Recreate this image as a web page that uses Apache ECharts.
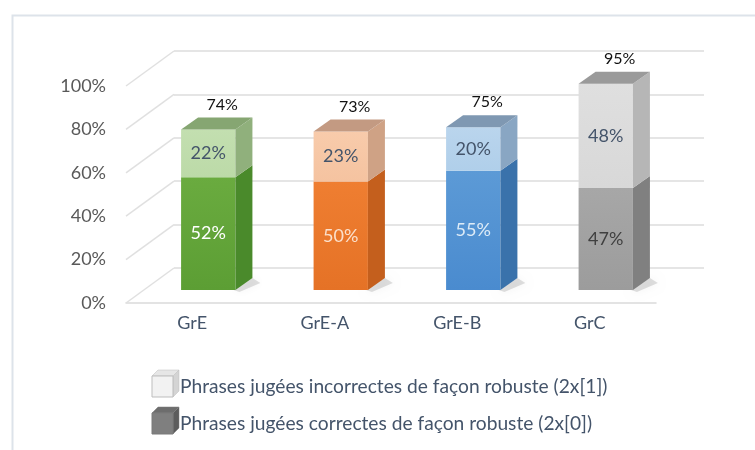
<!DOCTYPE html>
<html>
<head>
<meta charset="utf-8">
<script src="https://cdn.jsdelivr.net/npm/echarts@6/dist/echarts.min.js"></script>
<style>
  html, body { margin: 0; padding: 0; background: #fff; }
  #chart { width: 755px; height: 450px; }
</style>
</head>
<body>
<div id="chart"></div>
<script>
const categories = ['GrE', 'GrE-A', 'GrE-B', 'GrC'];
const correctes = [52, 50, 55, 47];      // 2x[0], lower part
const incorrectes = [22, 23, 20, 48];    // 2x[1], upper part
const yTicks = [0, 20, 40, 60, 80, 100];
const seriesNames = [
    'Phrases jugées incorrectes de façon robuste (2x[1])',
    'Phrases jugées correctes de façon robuste (2x[0])'
];

// fake 3d offsets (px)
const FRONT = [16, -13];   // bar front face vs floor front edge
const DEPTH = [17, -12];   // bar depth
const WALL = [48, -35];    // back wall vs front edge
const FONT = 'Lato';

const palette = {
    lower: [
        { front: '#6aab3f', front2: '#5c9e34', side: '#4a8a2b', label: '#ffffff' },
        { front: '#ef7e31', front2: '#e57226', side: '#c45f1d', label: '#fbe0cc' },
        { front: '#5c9ad6', front2: '#4a8bcf', side: '#3a72ab', label: '#ddebf7' },
        { front: '#a7a7a7', front2: '#9c9c9c', side: '#808080', label: '#404040' }
    ],
    upper: [
        { front: '#c3dfb0', front2: '#bcdaa8', side: '#90b07c', top: '#86a672', label: '#44546a' },
        { front: '#f8cbab', front2: '#f5c3a0', side: '#cfa285', top: '#c39a82', label: '#44546a' },
        { front: '#bad5ed', front2: '#b0cfea', side: '#89a6c3', top: '#7f98b2', label: '#44546a' },
        { front: '#dfdfdf', front2: '#d8d8d8', side: '#b6b6b6', top: '#9a9a9a', label: '#44546a' }
    ]
};

function makeBox(part) {
    return function (params, api) {
        const i = api.value(0);
        const base = api.value(1);
        const top = api.value(2);
        const pb = api.coord([i, base]);
        const pt = api.coord([i, top]);
        const w = api.size([1, 0])[0] * 0.41;
        const x0 = pb[0] - w / 2 + FRONT[0];
        const x1 = x0 + w;
        const yb = pb[1] + FRONT[1];
        const yt = pt[1] + FRONT[1];
        const c = palette[part][i];
        const children = [];
        if (part === 'lower') {
            // soft floor shadow
            children.push({
                type: 'polygon',
                shape: { points: [[x1 - 2, yb], [x1 + DEPTH[0], yb + DEPTH[1]], [x1 + DEPTH[0] + 8, yb + DEPTH[1] + 5], [x1 + 4, yb + 2]] },
                style: { fill: 'rgba(0,0,0,0.12)', shadowBlur: 8, shadowColor: 'rgba(0,0,0,0.4)' }
            });
        }
        children.push({
            type: 'rect',
            shape: { x: x0, y: yt, width: w, height: yb - yt },
            style: {
                fill: {
                    type: 'linear', x: 0, y: 0, x2: 0, y2: 1,
                    colorStops: [{ offset: 0, color: c.front }, { offset: 1, color: c.front2 }]
                }
            }
        });
        children.push({
            type: 'polygon',
            shape: { points: [[x1, yb], [x1 + DEPTH[0], yb + DEPTH[1]], [x1 + DEPTH[0], yt + DEPTH[1]], [x1, yt]] },
            style: { fill: c.side }
        });
        if (part === 'upper') {
            children.push({
                type: 'polygon',
                shape: { points: [[x0, yt], [x0 + DEPTH[0], yt + DEPTH[1]], [x1 + DEPTH[0], yt + DEPTH[1]], [x1, yt]] },
                style: { fill: c.top }
            });
            // total on top
            children.push({
                type: 'text',
                style: {
                    text: Math.round(top) + '%',
                    x: (x0 + x1) / 2 + 14, y: yt + DEPTH[1] - 13,
                    align: 'center', verticalAlign: 'middle',
                    font: '16px ' + FONT, fill: '#111111'
                }
            });
        }
        children.push({
            type: 'text',
            style: {
                text: Math.round(top - base) + '%',
                x: (x0 + x1) / 2, y: (yt + yb) / 2,
                align: 'center', verticalAlign: 'middle',
                font: '18px ' + FONT, fill: c.label
            }
        });
        return { type: 'group', children: children };
    };
}

function renderWall(params, api) {
    const p = api.coord([0, api.value(1)]);
    const x = params.coordSys.x;
    return {
        type: 'line',
        shape: { x1: x, y1: p[1], x2: x + WALL[0], y2: p[1] + WALL[1] },
        style: { stroke: '#e0e0e0', lineWidth: 1.5 }
    };
}

// legend drawn as small cubes
const legendStyle = [
    { front: '#f2f2f2', side: '#d4d4d4', top: '#e6e6e6', stroke: '#bdbdbd' },
    { front: '#7f7f7f', side: '#5c5c5c', top: '#6d6d6d', stroke: '#7a7a7a' }
];
const legendTop = [376, 413];
const legendGraphics = [];
seriesNames.forEach(function (name, k) {
    const s = legendStyle[k];
    const x = 152, y = legendTop[k], sz = 21, d = 6;
    legendGraphics.push({
        type: 'polygon', shape: { points: [[x + sz, y + sz], [x + sz + d, y + sz - d], [x + sz + d, y - d], [x + sz, y]] },
        style: { fill: s.side, stroke: s.stroke, lineWidth: 0.5 }
    });
    legendGraphics.push({
        type: 'polygon', shape: { points: [[x, y], [x + d, y - d], [x + sz + d, y - d], [x + sz, y]] },
        style: { fill: s.top, stroke: s.stroke, lineWidth: 0.5 }
    });
    legendGraphics.push({
        type: 'rect', shape: { x: x, y: y, width: sz, height: sz },
        style: { fill: s.front, stroke: s.stroke, lineWidth: 1 }
    });
    legendGraphics.push({
        type: 'text',
        style: {
            text: name, x: x + sz + 7, y: y + sz / 2,
            verticalAlign: 'middle', font: '19.2px ' + FONT, fill: '#44546a'
        }
    });
});

const chart = echarts.init(document.getElementById('chart'), null, { renderer: 'canvas' });
chart.setOption({
    animation: false,
    backgroundColor: '#ffffff',
    grid: [
        { left: 126, right: 99, top: 86, bottom: 147 },
        { left: 126 + WALL[0], right: 99 - WALL[0], top: 86 + WALL[1], bottom: 147 - WALL[1] }
    ],
    xAxis: [
        {
            type: 'category', gridIndex: 0, data: categories,
            axisLine: { lineStyle: { color: '#dadada', width: 1.5 } },
            axisTick: { show: false },
            axisLabel: { margin: 11, color: '#44546a', fontFamily: FONT, fontSize: 18 }
        },
        { type: 'category', gridIndex: 1, data: categories, show: false }
    ],
    yAxis: [
        {
            type: 'value', gridIndex: 0, min: 0, max: 100, interval: 20,
            axisLine: { show: false }, axisTick: { show: false },
            splitLine: { show: false },
            axisLabel: { formatter: '{value}%', margin: 20, color: '#595959', fontFamily: FONT, fontSize: 18 }
        },
        {
            type: 'value', gridIndex: 1, min: 0, max: 100, interval: 20,
            axisLine: { show: false }, axisTick: { show: false }, axisLabel: { show: false },
            splitLine: { lineStyle: { color: '#dcdcdc', width: 1.5 } }
        }
    ],
    graphic: [
        {
            type: 'rect', left: 10, top: 13,
            shape: { width: 760, height: 460 },
            style: { fill: 'none', stroke: '#dde3ea', lineWidth: 2 }
        },
        { type: 'group', children: legendGraphics }
    ],
    series: [
        {
            type: 'custom', name: 'wall', xAxisIndex: 0, yAxisIndex: 0, z: 1,
            renderItem: renderWall, silent: true,
            data: yTicks.map(function (v) { return [0, v]; })
        },
        {
            type: 'custom', name: seriesNames[1], xAxisIndex: 0, yAxisIndex: 0, z: 3,
            renderItem: makeBox('lower'),
            encode: { x: 0, y: [1, 2] },
            data: correctes.map(function (v, i) { return [i, 0, v]; })
        },
        {
            type: 'custom', name: seriesNames[0], xAxisIndex: 0, yAxisIndex: 0, z: 4,
            renderItem: makeBox('upper'),
            encode: { x: 0, y: [1, 2] },
            data: incorrectes.map(function (v, i) { return [i, correctes[i], correctes[i] + v]; })
        }
    ]
});
</script>
</body>
</html>
